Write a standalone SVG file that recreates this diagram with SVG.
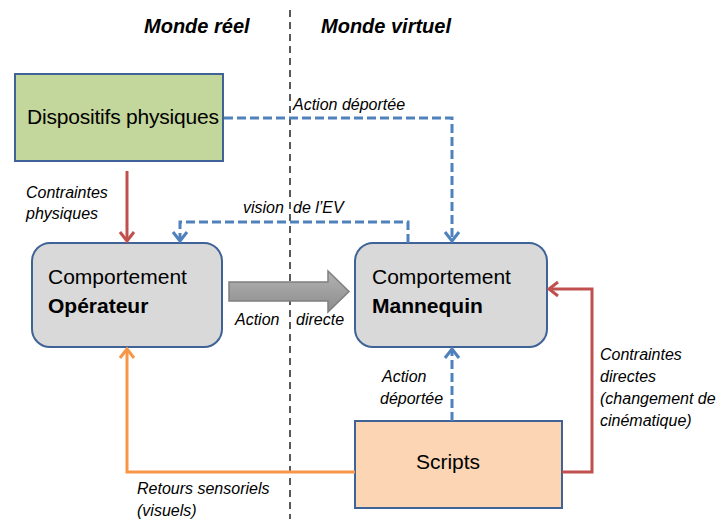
<svg xmlns="http://www.w3.org/2000/svg" width="720" height="519" viewBox="0 0 720 519">
<style>
text{font-family:"Liberation Sans",Arial,sans-serif;fill:#000}
.head{font-size:20px;font-weight:bold;font-style:italic}
.main{font-size:21px}
.b{font-weight:bold}
.lbl{font-size:16px;font-style:italic}
.box{stroke:#3f6297;stroke-width:2}
.con{fill:none;stroke-width:3}
.blue{stroke:#4f81bd;stroke-dasharray:9 4}
.red{stroke:#c0504d}
.orange{stroke:#f79646}
</style>
<defs>
<marker id="mb" markerUnits="userSpaceOnUse" markerWidth="20" markerHeight="20" viewBox="-12 -10 14 20" refX="0" refY="0" orient="auto"><path d="M-9,-7 L0,0 L-9,7" fill="none" stroke="#4f81bd" stroke-width="3"/></marker>
<marker id="mr" markerUnits="userSpaceOnUse" markerWidth="20" markerHeight="20" viewBox="-12 -10 14 20" refX="0" refY="0" orient="auto"><path d="M-9,-7 L0,0 L-9,7" fill="none" stroke="#c0504d" stroke-width="3"/></marker>
<marker id="mo" markerUnits="userSpaceOnUse" markerWidth="20" markerHeight="20" viewBox="-12 -10 14 20" refX="0" refY="0" orient="auto"><path d="M-9,-7 L0,0 L-9,7" fill="none" stroke="#f79646" stroke-width="3"/></marker>
<linearGradient id="ga" x1="0" y1="0" x2="0" y2="1"><stop offset="0" stop-color="#b3b3b3"/><stop offset="1" stop-color="#8c8c8c"/></linearGradient>
</defs>
<rect width="720" height="519" fill="#fff"/>
<line x1="290" y1="10" x2="290" y2="519" stroke="#595959" stroke-width="2" stroke-dasharray="7 5"/>
<text class="head" x="144" y="33">Monde réel</text>
<text class="head" x="321" y="33">Monde virtuel</text>

<g id="dispositifs">
<rect class="box" x="15" y="74" width="208" height="87" fill="#c3d69b"/>
<text class="main" x="27" y="124" textLength="192">Dispositifs  physiques</text>
</g>
<g id="operateur">
<rect class="box" x="32" y="243" width="190" height="104" rx="18" fill="#d9d9d9"/>
<text class="main" x="48" y="284">Comportement</text>
<text class="main b" x="48" y="313">Opérateur</text>
</g>
<g id="mannequin">
<rect class="box" x="355" y="243" width="192" height="104" rx="18" fill="#d9d9d9"/>
<text class="main" x="372" y="284">Comportement</text>
<text class="main b" x="372" y="313">Mannequin</text>
</g>
<g id="scripts">
<rect class="box" x="355" y="421" width="207" height="87" fill="#fcd5b5"/>
<text class="main" x="448" y="469" text-anchor="middle">Scripts</text>
</g>

<g id="connectors">
<path class="con blue" d="M224,118 H452 V241" marker-end="url(#mb)"/>
<path class="con blue" d="M408,243 V222 H180 V241" marker-end="url(#mb)"/>
<path class="con blue" d="M452,421 V349" marker-end="url(#mb)"/>
<path class="con red" d="M127,171 V241" marker-end="url(#mr)"/>
<path class="con red" d="M562,472 H592 V289 H549" marker-end="url(#mr)"/>
<path class="con orange" d="M355,472 H127 V349" marker-end="url(#mo)"/>
<path d="M229,282 H328 V271 L349,291.5 L328,312 V301 H229 Z" fill="url(#ga)" stroke="#7f7f7f" stroke-width="1.5"/>
</g>

<g id="labels">
<text class="lbl" x="293" y="110">Action déportée</text>
<text class="lbl" x="26" y="198">Contraintes</text>
<text class="lbl" x="26" y="219">physiques</text>
<text class="lbl" x="243" y="213">vision</text>
<text class="lbl" x="293" y="213">de l’EV</text>
<text class="lbl" x="235" y="325">Action</text>
<text class="lbl" x="296" y="325">directe</text>
<text class="lbl" x="382" y="382">Action</text>
<text class="lbl" x="380" y="404">déportée</text>
<text class="lbl" x="600" y="360">Contraintes</text>
<text class="lbl" x="600" y="382">directes</text>
<text class="lbl" x="600" y="404">(changement de</text>
<text class="lbl" x="600" y="426">cinématique)</text>
<text class="lbl" x="137" y="494">Retours sensoriels</text>
<text class="lbl" x="137" y="516">(visuels)</text>
</g>
</svg>
